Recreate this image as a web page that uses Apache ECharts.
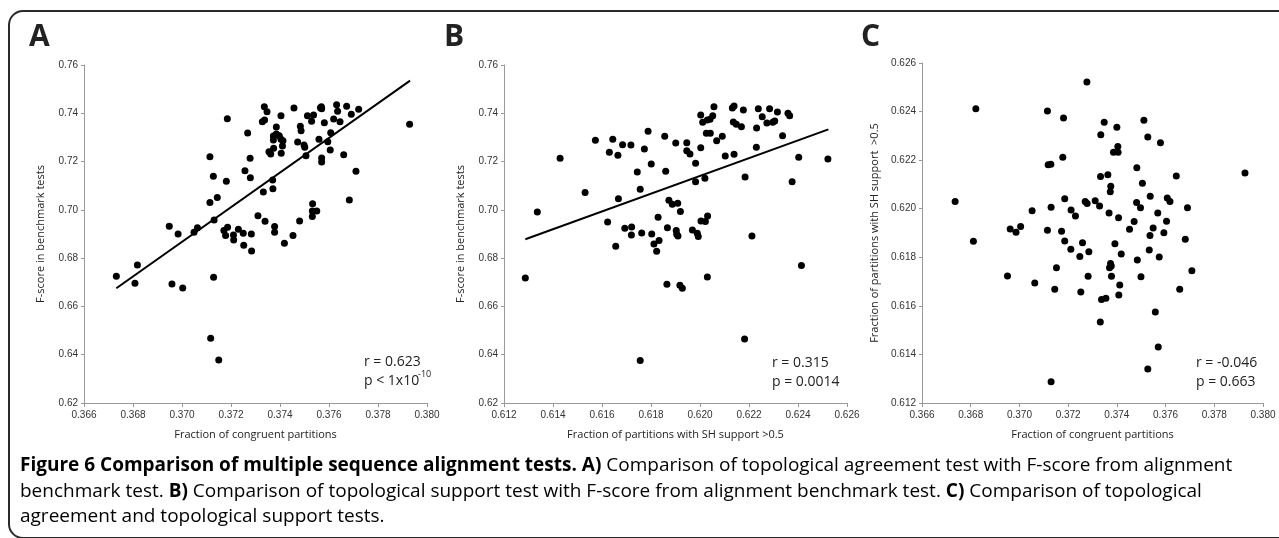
<!DOCTYPE html>
<html>
<head>
    <meta charset="utf-8" />
    <title>Figure 6</title>
    <script src="https://cdn.jsdelivr.net/npm/echarts@6/dist/echarts.min.js"></script>
    <style>
        html, body { margin: 0; padding: 0; background: #fff; overflow: hidden; }
        #chart { width: 1279px; height: 538px; }
    </style>
</head>
<body>
    <div id="chart"></div>
    <script type="text/javascript">
        // axis ticks
        var congruentTicks = [0.366, 0.380, 0.002];
        var supportTicks = [0.612, 0.626, 0.002];
        var fscoreTicks = [0.62, 0.76, 0.02];

        // A: fraction of congruent partitions vs F-score
        var pointsA = [
            [0.36732, 0.67249], [0.36818, 0.67718], [0.36808, 0.66959], [0.36948, 0.69320], [0.36984, 0.69002],
            [0.36959, 0.66932], [0.37003, 0.66766], [0.37049, 0.69071], [0.37063, 0.69264], [0.37114, 0.72204],
            [0.37128, 0.71390], [0.37185, 0.73778], [0.37144, 0.70507], [0.37114, 0.70300], [0.37131, 0.69582],
            [0.37181, 0.71183], [0.37129, 0.67208], [0.37117, 0.64682], [0.37150, 0.63785], [0.37171, 0.69140],
            [0.37186, 0.69278], [0.37178, 0.68933], [0.37210, 0.68961], [0.37211, 0.68754], [0.37230, 0.69195],
            [0.37250, 0.69030], [0.37252, 0.68533], [0.37283, 0.69002], [0.37284, 0.68298], [0.37257, 0.71625],
            [0.37268, 0.73184], [0.37278, 0.72135], [0.37279, 0.71335], [0.37310, 0.69761], [0.37336, 0.74275],
            [0.37347, 0.74068], [0.37328, 0.73654], [0.37337, 0.73723], [0.37339, 0.69527], [0.37332, 0.70741],
            [0.37370, 0.71238], [0.37371, 0.70879], [0.37378, 0.69306], [0.37378, 0.69071], [0.37418, 0.68616],
            [0.37453, 0.68933], [0.37480, 0.69540], [0.37385, 0.73433], [0.37373, 0.73060], [0.37385, 0.73143],
            [0.37397, 0.73074], [0.37404, 0.72922], [0.37373, 0.72894], [0.37412, 0.72867], [0.37410, 0.72646],
            [0.37374, 0.72549], [0.37355, 0.72411], [0.37362, 0.72315], [0.37405, 0.72342], [0.37404, 0.73902],
            [0.37457, 0.74219], [0.37472, 0.72812], [0.37483, 0.73460], [0.37486, 0.73281], [0.37498, 0.72687],
            [0.37501, 0.72591], [0.37506, 0.72246], [0.37512, 0.73902], [0.37529, 0.73667], [0.37537, 0.73930],
            [0.37565, 0.74233], [0.37569, 0.74275], [0.37570, 0.74192], [0.37581, 0.73612], [0.37559, 0.72922],
            [0.37570, 0.72149], [0.37570, 0.71983], [0.37595, 0.72825], [0.37607, 0.73198], [0.37605, 0.72480],
            [0.37619, 0.73764], [0.37631, 0.74357], [0.37635, 0.74081], [0.37645, 0.73654], [0.37672, 0.74288],
            [0.37691, 0.73957], [0.37721, 0.74164], [0.37660, 0.72287], [0.37710, 0.71597], [0.37683, 0.70410],
            [0.37533, 0.70258], [0.37532, 0.69954], [0.37550, 0.69954], [0.37532, 0.69720], [0.37929, 0.73543]
        ];
        var trendA = [[0.36732, 0.66752], [0.37931, 0.75351]];

        // B: fraction of partitions with SH support vs F-score
        var pointsB = [
            [0.61287, 0.67180], [0.61336, 0.69913], [0.61429, 0.72135], [0.61531, 0.70714], [0.61573, 0.72881],
            [0.61623, 0.69499], [0.61630, 0.72384], [0.61644, 0.72922], [0.61665, 0.72259], [0.61667, 0.70465],
            [0.61656, 0.68491], [0.61684, 0.72701], [0.61693, 0.69237], [0.61721, 0.69292], [0.61718, 0.72687],
            [0.61720, 0.68961], [0.61744, 0.71569], [0.61756, 0.70852], [0.61762, 0.69043], [0.61756, 0.63757],
            [0.61773, 0.72522], [0.61788, 0.73253], [0.61801, 0.71901], [0.61803, 0.69002], [0.61812, 0.68588],
            [0.61829, 0.69692], [0.61833, 0.68726], [0.61823, 0.68284], [0.61856, 0.73046], [0.61860, 0.71597],
            [0.61865, 0.66918], [0.61867, 0.69264], [0.61873, 0.70396], [0.61887, 0.70231], [0.61909, 0.70272],
            [0.61920, 0.69927], [0.61901, 0.72770], [0.61903, 0.69140], [0.61905, 0.68988], [0.61910, 0.68919],
            [0.61918, 0.66876], [0.61928, 0.66752], [0.61946, 0.72784], [0.61946, 0.72453], [0.61959, 0.72315],
            [0.61969, 0.69168], [0.61982, 0.71928], [0.61982, 0.71169], [0.61989, 0.69030], [0.61993, 0.68892],
            [0.62003, 0.72577], [0.62003, 0.73930], [0.62011, 0.73626], [0.62020, 0.71307], [0.62026, 0.73170],
            [0.62042, 0.73170], [0.62030, 0.73723], [0.62041, 0.73750], [0.62052, 0.73902], [0.62057, 0.74275],
            [0.62004, 0.69540], [0.62022, 0.69513], [0.62031, 0.69747], [0.62030, 0.67222], [0.62068, 0.72867],
            [0.62091, 0.73046], [0.62103, 0.72232], [0.62132, 0.74219], [0.62139, 0.74302], [0.62136, 0.73640],
            [0.62148, 0.73543], [0.62139, 0.72301], [0.62169, 0.73447], [0.62177, 0.74137], [0.62184, 0.71362],
            [0.62212, 0.68919], [0.62182, 0.64654], [0.62231, 0.73391], [0.62230, 0.72591], [0.62238, 0.74192],
            [0.62254, 0.73861], [0.62273, 0.73598], [0.62284, 0.74192], [0.62297, 0.73626], [0.62305, 0.73681],
            [0.62316, 0.74054], [0.62337, 0.73074], [0.62359, 0.73999], [0.62366, 0.73902], [0.62376, 0.71169],
            [0.62403, 0.72177], [0.62414, 0.67691], [0.62522, 0.72108]
        ];
        var trendB = [[0.61287, 0.68781], [0.62524, 0.73336]];

        // C: fraction of congruent partitions vs fraction with SH support
        var pointsC = [
            [0.36736, 0.62030], [0.36821, 0.62412], [0.36811, 0.61866], [0.36951, 0.61723], [0.36962, 0.61916],
            [0.36986, 0.61903], [0.37005, 0.61927], [0.37052, 0.61992], [0.37063, 0.61694], [0.37115, 0.62402],
            [0.37118, 0.62181], [0.37129, 0.62183], [0.37130, 0.62006], [0.37115, 0.61911], [0.37152, 0.61757],
            [0.37145, 0.61668], [0.37130, 0.61288], [0.37181, 0.62374], [0.37178, 0.62212], [0.37186, 0.62041],
            [0.37173, 0.61907], [0.37186, 0.61867], [0.37212, 0.61995], [0.37211, 0.61833], [0.37230, 0.61970],
            [0.37248, 0.61803], [0.37252, 0.61657], [0.37259, 0.61860], [0.37270, 0.62030], [0.37278, 0.62021],
            [0.37285, 0.61823], [0.37282, 0.61722], [0.37277, 0.62522], [0.37311, 0.62033], [0.37329, 0.62011],
            [0.37334, 0.62305], [0.37333, 0.62133], [0.37337, 0.61626], [0.37332, 0.61534], [0.37348, 0.62356],
            [0.37355, 0.61631], [0.37363, 0.62140], [0.37368, 0.61982], [0.37375, 0.62092], [0.37373, 0.62070],
            [0.37370, 0.61757], [0.37374, 0.61774], [0.37377, 0.61764], [0.37378, 0.61722], [0.37386, 0.62232],
            [0.37405, 0.62232], [0.37404, 0.62256], [0.37400, 0.62335], [0.37392, 0.61856], [0.37407, 0.61963],
            [0.37418, 0.61814], [0.37412, 0.61686], [0.37408, 0.61645], [0.37452, 0.61915], [0.37471, 0.61947],
            [0.37481, 0.62026], [0.37482, 0.62169], [0.37484, 0.61789], [0.37497, 0.62004], [0.37499, 0.61720],
            [0.37505, 0.62105], [0.37511, 0.62364], [0.37527, 0.62295], [0.37533, 0.61830], [0.37536, 0.61890],
            [0.37537, 0.62051], [0.37527, 0.61340], [0.37549, 0.61921], [0.37558, 0.61575], [0.37568, 0.61982],
            [0.37570, 0.61431], [0.37574, 0.61801], [0.37579, 0.62272], [0.37593, 0.61901], [0.37604, 0.61948],
            [0.37607, 0.62044], [0.37618, 0.62030], [0.37644, 0.62135], [0.37658, 0.61668], [0.37681, 0.61874],
            [0.37690, 0.62004], [0.37708, 0.61745], [0.37926, 0.62147]
        ];

        var statsA = ['r = 0.623', 'p < 1x10', '-10'];
        var statsB = ['r = 0.315', 'p = 0.0014'];
        var statsC = ['r = -0.046', 'p = 0.663'];

        var labelFont = 'Liberation Sans, Arial, sans-serif';
        var textFont = 'Open Sans, sans-serif';

        function xAxisFor(gi, ticks, name) {
            return {
                type: 'value', gridIndex: gi,
                min: ticks[0], max: ticks[1], interval: ticks[2],
                name: name, nameLocation: 'middle', nameGap: 26,
                nameTextStyle: { fontFamily: textFont, fontSize: 11, color: '#222' },
                axisLine: { lineStyle: { color: '#999', width: 1 } },
                axisTick: { show: true, length: 4, lineStyle: { color: '#999' } },
                axisLabel: {
                    fontFamily: labelFont, fontSize: 10, color: '#333', margin: 7,
                    showMinLabel: true, showMaxLabel: true,
                    formatter: function (v) { return v.toFixed(3); }
                },
                splitLine: { show: false }
            };
        }

        function yAxisFor(gi, ticks, name, digits, gap) {
            return {
                type: 'value', gridIndex: gi,
                min: ticks[0], max: ticks[1], interval: ticks[2],
                name: name, nameLocation: 'middle', nameGap: gap,
                nameTextStyle: { fontFamily: textFont, fontSize: 11, color: '#222' },
                axisLine: { show: true, lineStyle: { color: '#999', width: 1 } },
                axisTick: { show: true, length: 3, lineStyle: { color: '#999' } },
                axisLabel: {
                    fontFamily: labelFont, fontSize: 10, color: '#333', margin: 6,
                    formatter: function (v) { return v.toFixed(digits); }
                },
                splitLine: { show: false }
            };
        }

        function scatter(i, data) {
            return {
                type: 'scatter', xAxisIndex: i, yAxisIndex: i, data: data,
                symbolSize: 7, itemStyle: { color: '#000', opacity: 1 }, silent: true
            };
        }

        function trend(i, data) {
            return {
                type: 'line', xAxisIndex: i, yAxisIndex: i, data: data,
                symbol: 'none', lineStyle: { color: '#000', width: 2 }, silent: true
            };
        }

        function txt(x, y, s, size, weight) {
            return {
                type: 'text', left: x, top: y,
                style: {
                    text: s, fontFamily: textFont, fontSize: size,
                    fontWeight: weight || 'normal', fill: '#222'
                }
            };
        }

        var capRich = {
            b: { fontFamily: textFont, fontSize: 19, fontWeight: 'bold', color: '#231f20' },
            n: { fontFamily: textFont, fontSize: 19, color: '#444' }
        };
        var captionLines = [
            '{b|Figure 6 Comparison of multiple sequence alignment tests. A)}{n| Comparison of topological agreement test with F-score from alignment}',
            '{n|benchmark test. }{b|B)}{n| Comparison of topological support test with F-score from alignment benchmark test. }{b|C)}{n| Comparison of topological}',
            '{n|agreement and topological support tests.}'
        ];

        var chart = echarts.init(document.getElementById('chart'), null, { renderer: 'canvas' });

        var option = {
            animation: false,
            backgroundColor: '#fff',
            grid: [
                { left: 84, top: 65, width: 343, height: 338 },
                { left: 504, top: 65, width: 343, height: 338 },
                { left: 922, top: 63, width: 341, height: 340 }
            ],
            xAxis: [
                xAxisFor(0, congruentTicks, 'Fraction of congruent partitions'),
                xAxisFor(1, supportTicks, 'Fraction of partitions with SH support >0.5'),
                xAxisFor(2, congruentTicks, 'Fraction of congruent partitions')
            ],
            yAxis: [
                yAxisFor(0, fscoreTicks, 'F-score in benchmark tests', 2, 38),
                yAxisFor(1, fscoreTicks, 'F-score in benchmark tests', 2, 38),
                yAxisFor(2, supportTicks, 'Fraction of partitions with SH support  >0.5', 3, 42)
            ],
            series: [
                scatter(0, pointsA), trend(0, trendA),
                scatter(1, pointsB), trend(1, trendB),
                scatter(2, pointsC)
            ],
            graphic: [
                {
                    type: 'rect', silent: true,
                    shape: { x: 9, y: 11, width: 1300, height: 527, r: 14 },
                    style: { fill: 'none', stroke: '#2a2a2a', lineWidth: 2 }
                },
                txt(29, 22, 'A', 30, 'bold'),
                txt(444, 22, 'B', 30, 'bold'),
                txt(861, 22, 'C', 30, 'bold'),

                txt(364, 355, statsA[0], 14), txt(364, 374, statsA[1], 14), txt(418, 370, statsA[2], 9),
                txt(772, 356, statsB[0], 14), txt(772, 375, statsB[1], 14),
                txt(1196, 356, statsC[0], 14), txt(1196, 375, statsC[1], 14),

                { type: 'text', left: 20, top: 456, style: { text: captionLines[0], rich: capRich } },
                { type: 'text', left: 20, top: 482, style: { text: captionLines[1], rich: capRich } },
                { type: 'text', left: 20, top: 507, style: { text: captionLines[2], rich: capRich } }
            ]
        };

        chart.setOption(option);
    </script>
</body>
</html>
